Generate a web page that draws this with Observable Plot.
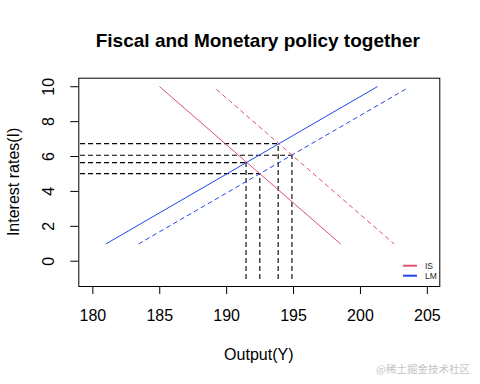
<!DOCTYPE html>
<html>
<head>
<meta charset="utf-8">
<script src="https://cdn.jsdelivr.net/npm/d3@7"></script>
<script src="https://cdn.jsdelivr.net/npm/@observablehq/plot@0.6"></script>
<style>
  html, body { margin: 0; padding: 0; background: #fff; }
  #chart { width: 480px; height: 384px; }
</style>
</head>
<body>
<div id="chart"></div>
<script>
// ---- data ----
const isOutput = [185, 198.5];          // IS (initial)
const isRate = [10, 1];
const is2Output = [189.25, 202.5];      // IS shifted (fiscal expansion)
const is2Rate = [9.84, 1];
const lmOutput = [181, 201.25];         // LM (initial)
const lmRate = [1, 10];
const lm2Output = [183.44, 203.42];     // LM shifted (monetary expansion)
const lm2Rate = [1, 9.88];
const eqOutput = [191.45, 192.48, 193.85, 194.88];  // intersections
const eqRate = [5.65, 5.02, 6.74, 6.07];
const xTicks = [180, 185, 190, 195, 200, 205];
const yTicks = [0, 2, 4, 6, 8, 10];
const legendLabels = ["IS", "LM"];

const RED = "#DF536B", BLUE = "#2244EE";

const toPts = (xs, ys) => xs.map((x, i) => ({x, y: ys[i]}));
const eq = eqOutput.map((y, i) => ({out: y, rate: eqRate[i]}));

const W = 480, H = 384;
const mL = 78.3, mR = 40.7, mT = 77.7, mB = 98;

const plot = Plot.plot({
  width: W, height: H,
  marginLeft: mL, marginRight: mR, marginTop: mT, marginBottom: mB,
  style: {fontFamily: "'Liberation Sans', Arial, sans-serif", background: "#fff"},
  x: {domain: [178.95, 205.93]},
  y: {domain: [-1.45, 10.49]},
  marks: [
    Plot.ruleY(eq, {y: "rate", x1: 179.08, x2: "out", stroke: "black", strokeWidth: 1.1, strokeDasharray: "5,3"}),
    Plot.ruleX(eq, {x: "out", y1: -1.05, y2: "rate", stroke: "black", strokeWidth: 1.1, strokeDasharray: "5,3"}),
    Plot.line(toPts(isOutput, isRate), {x: "x", y: "y", stroke: RED, strokeWidth: 1}),
    Plot.line(toPts(is2Output, is2Rate), {x: "x", y: "y", stroke: RED, strokeWidth: 1, strokeDasharray: "4,4"}),
    Plot.line(toPts(lmOutput, lmRate), {x: "x", y: "y", stroke: BLUE, strokeWidth: 1}),
    Plot.line(toPts(lm2Output, lm2Rate), {x: "x", y: "y", stroke: BLUE, strokeWidth: 1, strokeDasharray: "4,4"}),
    Plot.frame({stroke: "black", strokeWidth: 1}),
    Plot.axisX({ticks: xTicks, tickSize: 8, tickPadding: 15, fontSize: 16, label: null, color: "black"}),
    Plot.axisY({ticks: yTicks, tickSize: 8, text: null, label: null, color: "black"}),
    Plot.text(yTicks, {y: d => d, text: d => String(d), frameAnchor: "left", rotate: -90,
      dx: -29.5, fontSize: 16, lineAnchor: "middle", textAnchor: "middle", fill: "black"})
  ]
});
document.getElementById("chart").appendChild(plot);

const svg = d3.select(plot);
const ff = "'Liberation Sans', Arial, sans-serif";
const cx = (mL + (W - mR)) / 2;
// title
svg.append("text").attr("x", cx - 1).attr("y", 47).attr("text-anchor", "middle")
  .attr("font-family", ff).attr("font-size", 19).attr("font-weight", "bold").attr("fill", "black")
  .text("Fiscal and Monetary policy together");
// x label
svg.append("text").attr("x", cx).attr("y", 360).attr("text-anchor", "middle")
  .attr("font-family", ff).attr("font-size", 16).attr("fill", "black").text("Output(Y)");
// y label
svg.append("text").attr("transform", `translate(19,${(mT + H - mB) / 2}) rotate(-90)`)
  .attr("text-anchor", "middle").attr("font-family", ff).attr("font-size", 16).attr("fill", "black")
  .text("Interest rates(I)");
// legend
const legColors = [RED, BLUE];
legendLabels.forEach((lab, i) => {
  const y = 265.7 + i * 10;
  svg.append("line").attr("x1", 403).attr("x2", 417).attr("y1", y).attr("y2", y)
    .attr("stroke", legColors[i]).attr("stroke-width", 2);
  svg.append("text").attr("x", 425).attr("y", y + 3).attr("text-anchor", "start").attr("font-family", ff)
    .attr("font-size", 8.5).attr("fill", "#222").text(lab);
});
// watermark
svg.append("text").attr("x", 376).attr("y", 373).attr("text-anchor", "start")
  .attr("font-family", "'Noto Sans CJK SC', sans-serif")
  .attr("font-size", 10.5).attr("fill", "#c4c4c4").text("@稀土掘金技术社区");
</script>
</body>
</html>
